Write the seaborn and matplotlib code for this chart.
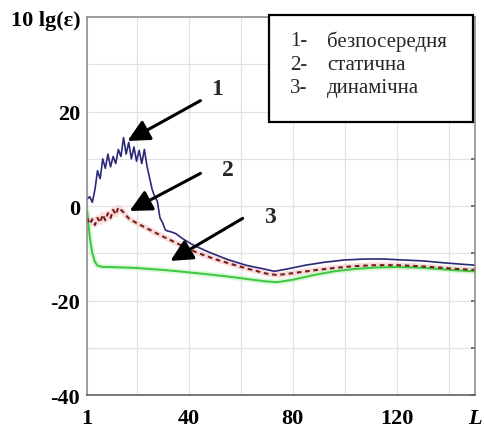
import numpy as np
import pandas as pd
import matplotlib
matplotlib.use("Agg")
import matplotlib.pyplot as plt
import matplotlib.patches as mpatches
import seaborn as sns

# ---- data ----
x_direct = [1, 2, 3, 4, 5, 6, 7, 8, 9, 10, 11, 12, 13, 14, 15, 16, 17, 18, 19, 20,
            21, 22, 23, 24, 25, 26, 27, 28, 29, 30, 31, 32, 33, 35, 38, 42, 48, 55,
            62, 68, 73, 78, 85, 92, 100, 108, 115, 122, 130, 138, 145, 150]
y_direct = [1.5, 2.0, 0.8, 3.5, 7.5, 5.8, 10.0, 8.0, 11.0, 8.3, 10.5, 9.0, 12.0, 10.5,
            14.5, 11.0, 13.5, 10.0, 12.5, 9.5, 11.8, 9.0, 12.0, 8.5, 6.0, 3.5, 2.0,
            1.0, -2.5, -3.5, -5.0, -5.3, -5.4, -5.8, -7.0, -8.3, -9.8, -11.3, -12.5,
            -13.2, -13.8, -13.3, -12.5, -11.9, -11.4, -11.2, -11.2, -11.4, -11.6,
            -12.0, -12.3, -12.5]

x_static = [1, 2, 3, 4, 5, 6, 7, 8, 9, 10, 11, 12, 13, 14, 15, 16, 17, 20, 25, 30,
            36, 43, 50, 56, 63, 70, 74, 80, 88, 96, 104, 112, 120, 128, 136, 143, 150]
y_static = [-2.5, -3.8, -2.8, -4.0, -2.5, -3.5, -1.8, -3.0, -1.5, -2.5, -0.8, -1.8,
            -0.3, -0.8, -1.3, -2.0, -2.6, -3.6, -5.0, -6.4, -8.0, -9.8, -11.2, -12.2,
            -13.3, -14.3, -14.6, -14.2, -13.6, -13.1, -12.7, -12.5, -12.5, -12.7,
            -13.0, -13.3, -13.5]

x_dynamic = [1, 2, 3, 4, 5, 7, 10, 15, 20, 25, 30, 36, 45, 55, 62, 69, 74, 80, 88,
             96, 104, 112, 120, 128, 136, 143, 150]
y_dynamic = [-1.0, -6.5, -10.0, -11.8, -12.6, -12.9, -12.9, -13.0, -13.1, -13.3,
             -13.5, -13.8, -14.3, -14.9, -15.4, -15.9, -16.1, -15.6, -14.6, -13.8,
             -13.3, -13.0, -12.9, -13.0, -13.3, -13.6, -13.8]

legend_nums = ["1-", "2-", "3-"]
legend_names = ["безпосередня", "статична", "динамічна"]

# ---- style ----
sns.set_theme(style="whitegrid")
plt.rcParams['font.family'] = ['Liberation Serif', 'DejaVu Serif']

fig = plt.figure(figsize=(4.84, 4.31), dpi=100)
ax = fig.add_axes([0.180, 0.081, 0.801, 0.877])
ax.set_facecolor('white')

df1 = pd.DataFrame({'L': x_direct, 'v': y_direct})
df2 = pd.DataFrame({'L': x_static, 'v': y_static})
df3 = pd.DataFrame({'L': x_dynamic, 'v': y_dynamic})

# soft halos under the lines
sns.lineplot(data=df2, x='L', y='v', ax=ax, color='#f4c4c4', linewidth=4, alpha=0.6)
sns.lineplot(data=df3, x='L', y='v', ax=ax, color='#c4f2c4', linewidth=4, alpha=0.6)

sns.lineplot(data=df3, x='L', y='v', ax=ax, color='#3cc83c', linewidth=1.4)
sns.lineplot(data=df2, x='L', y='v', ax=ax, color='#7a1c1c', linewidth=1.5,
             linestyle=(0, (2.2, 1.8)))
sns.lineplot(data=df1, x='L', y='v', ax=ax, color='#2a2a78', linewidth=1.2)

ax.set_xlim(1, 150)
ax.set_ylim(-40, 40)
ax.set_xlabel('')
ax.set_ylabel('')

ax.set_xticks([1, 20, 40, 60, 80, 100, 120, 140, 150])
ax.set_xticklabels(['1', '', '40', '', '80', '', '120', '', 'L'],
                   fontsize=16, fontweight='bold', color='black')
ax.get_xticklabels()[-1].set_style('italic')
ax.set_yticks(np.arange(-40, 41, 10))
ax.set_yticklabels(['-40', '', '-20', '', '0', '', '20', '', '10 lg(ε)'],
                   fontsize=16, fontweight='bold', color='black')
ax.tick_params(axis='x', pad=9, length=3, direction='in', color='#666666')
ax.tick_params(axis='y', pad=5, length=3, direction='in', color='#666666',
               right=True)
ax.grid(True, color='#e2e2e2', linewidth=0.9)
for side, sp in ax.spines.items():
    sp.set_color('#888888')
    sp.set_linewidth(1.1)
ax.spines['bottom'].set_color('#555555')

# arrows with numbers
arrow_kw = dict(arrowstyle='-|>,head_length=1.1,head_width=0.55', lw=2.2,
                color='black')
ax.annotate('', xy=(15.6, 13.5), xytext=(45.5, 22.6), arrowprops=arrow_kw)
ax.annotate('', xy=(16.4, -1.3), xytext=(45.5, 7.2), arrowprops=arrow_kw)
ax.annotate('', xy=(32.1, -11.9), xytext=(61.7, -2.3), arrowprops=arrow_kw)
ax.text(50.9, 24.8, '1', fontsize=17, fontweight='bold', ha='center', va='center')
ax.text(55.0, 7.8, '2', fontsize=17, fontweight='bold', ha='center', va='center')
ax.text(71.3, -2.1, '3', fontsize=17, fontweight='bold', ha='center', va='center')

# legend box
box = mpatches.Rectangle((0.556, 0.715), 0.421, 0.248, transform=fig.transFigure,
                         facecolor='white', edgecolor='black', linewidth=1.6,
                         zorder=5)
fig.patches.append(box)
for i, (n, name) in enumerate(zip(legend_nums, legend_names)):
    yy = 0.903 - i * 0.0545
    fig.text(0.599, yy, n, fontsize=15, va='center', ha='left', zorder=6)
    fig.text(0.676, yy, name, fontsize=15, va='center', ha='left', zorder=6)

fig.savefig('out.png', dpi=100)
